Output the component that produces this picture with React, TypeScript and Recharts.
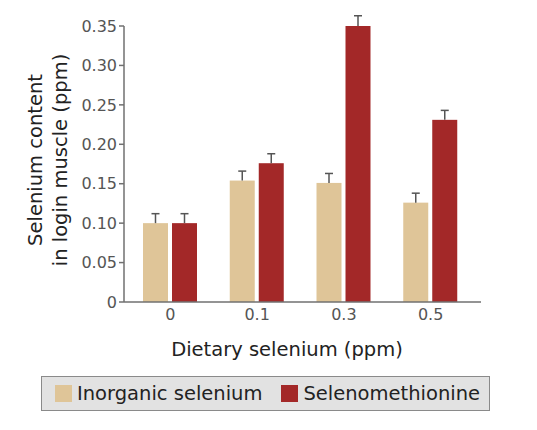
import React from 'react';
import { BarChart, Bar, XAxis, YAxis, Legend, Label } from 'recharts';

const categories = ['0', '0.1', '0.3', '0.5'];
const inorganic = [0.1, 0.154, 0.151, 0.126];
const inorganicErr = [0.012, 0.012, 0.012, 0.012];
const seleno = [0.1, 0.176, 0.35, 0.231];
const selenoErr = [0.012, 0.012, 0.013, 0.012];
const yTicks = [0, 0.05, 0.1, 0.15, 0.2, 0.25, 0.3, 0.35];

const seriesNames = ['Inorganic selenium', 'Selenomethionine'];
const colors = ['#DFC598', '#A32828'];

const data = categories.map((c, i) => ({
  cat: c,
  inorganic: inorganic[i],
  inorganicErr: inorganicErr[i],
  seleno: seleno[i],
  selenoErr: selenoErr[i],
}));

const FONT = '"DejaVu Sans", sans-serif';

const makeShape = (errKey: string) => (props: any) => {
  const { x, y, width, height, fill, payload, value } = props;
  const v = Array.isArray(value) ? value[1] - value[0] : value;
  const err = payload[errKey];
  const e = v ? (height * err) / v : 0;
  const cx = x + width / 2;
  return (
    <g>
      <rect x={x} y={y} width={width} height={height} fill={fill} />
      <line x1={cx} y1={y} x2={cx} y2={y - e} stroke="#555" strokeWidth={1.5} />
      <line x1={cx - 4} y1={y - e} x2={cx + 4} y2={y - e} stroke="#555" strokeWidth={1.5} />
    </g>
  );
};

const LegendBox = () => (
  <div
    style={{
      boxSizing: 'border-box',
      width: 449,
      height: 35,
      background: '#E2E2E2',
      border: '1px solid #8a8a8a',
      display: 'flex',
      alignItems: 'center',
      paddingLeft: 13,
      fontFamily: FONT,
      fontSize: 19.5,
      color: '#222',
      whiteSpace: 'nowrap',
    }}
  >
    {seriesNames.map((n, i) => (
      <div key={n} style={{ display: 'flex', alignItems: 'center', marginRight: i === 0 ? 19 : 0 }}>
        <div style={{ width: 17, height: 17, background: colors[i], marginRight: 5 }} />
        <span>{n}</span>
      </div>
    ))}
  </div>
);

export default function App() {
  return (
    <div style={{ width: 529, height: 422, position: 'relative' }}>
      <BarChart
        width={529}
        height={422}
        data={data}
        margin={{ top: 18, right: 56, left: 56, bottom: 63 }}
        barSize={25}
        barGap={4}
      >
        <XAxis
          dataKey="cat"
          tickLine={false}
          tickSize={0}
          tickMargin={7}
          axisLine={{ stroke: '#707070', strokeWidth: 1.5 }}
          tick={{ fill: '#555', fontSize: 16, fontFamily: FONT }}
          padding={{ left: 3, right: 7 }}
          height={30}
        >
          <Label
            content={() => (
              <text x={279} y={348} textAnchor="middle" fill="#222" fontSize={19.5} fontFamily={FONT}>
                Dietary selenium (ppm)
              </text>
            )}
          />
        </XAxis>
        <YAxis
          domain={[0, 0.35]}
          ticks={yTicks}
          interval={0}
          width={60}
          tickSize={5}
          tickLine={{ stroke: '#707070', strokeWidth: 1.5 }}
          axisLine={{ stroke: '#707070', strokeWidth: 1.5 }}
          tick={{ fill: '#555', fontSize: 16, fontFamily: FONT }}
          tickFormatter={(v: number) => (v === 0 ? '0' : v.toFixed(2))}
        >
          <Label
            content={() => (
              <text
                transform="translate(45.5,152) rotate(-90)"
                textAnchor="middle"
                fill="#222"
                fontSize={19.5}
                fontFamily={FONT}
              >
                <tspan x={0} y={-12}>Selenium content</tspan>
                <tspan x={0} y={13}>in login muscle (ppm)</tspan>
              </text>
            )}
          />
        </YAxis>
        <Legend
          content={() => <LegendBox />}
          wrapperStyle={{ position: 'absolute', left: 33, top: 368, width: 449, height: 35 }}
        />
        <Bar
          dataKey="inorganic"
          name={seriesNames[0]}
          fill={colors[0]}
          isAnimationActive={false}
          shape={makeShape('inorganicErr')}
        />
        <Bar
          dataKey="seleno"
          name={seriesNames[1]}
          fill={colors[1]}
          isAnimationActive={false}
          shape={makeShape('selenoErr')}
        />
      </BarChart>
    </div>
  );
}
